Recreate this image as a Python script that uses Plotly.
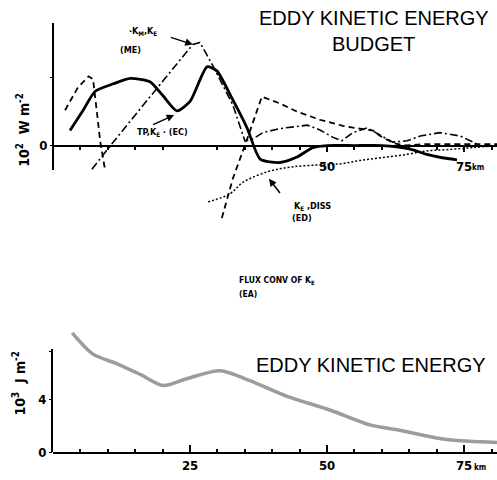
import plotly.graph_objects as go

# ---------------- data ----------------
# Top panel: eddy kinetic energy budget, 10^2 W m^-2, x in km
EC_X = [3.1, 5.5, 7.7, 11.0, 14.1, 17.7, 20.0, 22.6, 25.0, 28.1, 29.9, 32.5, 35.4, 37.8, 41.4, 44.5, 47.4, 50.0, 55.0, 60.0, 65.0, 68.2, 71.0, 73.7]
EC_Y = [0.22, 0.52, 0.80, 0.91, 0.99, 0.94, 0.74, 0.51, 0.65, 1.16, 1.10, 0.72, 0.26, -0.20, -0.25, -0.17, -0.03, 0.0, 0.0, 0.0, -0.05, -0.13, -0.18, -0.21]

ME_X = [7.1, 10.0, 16.0, 22.6, 25.5, 26.8, 29.2, 32.8, 35.0, 36.5, 38.3, 41.4, 46.4, 48.7, 51.1, 52.7, 54.7, 57.3, 59.5, 62.0, 64.6, 67.0, 70.6, 74.3, 77.4]
ME_Y = [-0.35, -0.05, 0.55, 1.21, 1.49, 1.52, 1.17, 0.60, 0.07, 0.10, 0.19, 0.25, 0.30, 0.23, 0.12, 0.07, 0.19, 0.26, 0.16, 0.05, 0.07, 0.14, 0.19, 0.14, 0.02]

EA_X = [2.2, 4.5, 6.5, 7.3, 8.0, 8.6, 9.5, None, 30.8, 32.8, 35.4, 38.1, 41.4, 44.5, 48.7, 52.9, 56.6, 58.4, 59.7, 62.0, 64.0, 68.0, 73.0, 78.0, 81.0]
EA_Y = [0.52, 0.85, 1.02, 0.98, 0.50, 0.07, -0.36, None, -1.07, -0.49, 0.09, 0.72, 0.62, 0.50, 0.38, 0.29, 0.24, 0.22, 0.14, 0.04, 0.0, 0.02, 0.02, 0.02, 0.02]

ED_X = [28.3, 32.3, 34.7, 39.4, 43.2, 47.4, 52.4, 56.0, 60.0, 64.6, 68.2, 72.0, 76.6, 81.0]
ED_Y = [-0.83, -0.71, -0.54, -0.38, -0.32, -0.29, -0.27, -0.22, -0.18, -0.13, -0.08, -0.06, -0.03, 0.0]

# Bottom panel: eddy kinetic energy, 10^3 J m^-2
EKE_X = [3.5, 7.3, 11.7, 16.0, 20.1, 24.5, 30.5, 35.9, 42.7, 50.5, 57.8, 62.8, 71.9, 81.0]
EKE_Y = [9.0, 7.4, 6.67, 5.85, 5.04, 5.56, 6.15, 5.4, 4.22, 3.19, 2.07, 1.70, 0.96, 0.74]

# tick labels
BOT_X_TICKS = [25, 50, 75]
BOT_X_TEXT = ["25", "50", "75"]
TOP_X_TICKS = [50, 75]
TOP_X_TEXT = ["50", "75"]
BOT_Y_TICKS = [0, 4, 7.6]
BOT_Y_TEXT = ["0", "4", ""]
TOP_Y_TICKS = [0, 1]
TOP_Y_TEXT = ["0", ""]
MINOR_TICKS = [5, 10, 15, 20, 30, 35, 40, 45, 55, 60, 65, 70, 80]

# ---------------- layout helpers ----------------
W, H = 497, 480
X0 = 53 / W
NARROW = "Liberation Sans Narrow, DejaVu Sans Condensed, Liberation Sans, sans-serif"
SANS = "Liberation Sans, Arial, sans-serif"
CLEAR = "rgba(0,0,0,0)"


def P(px, py):
    return px / W, 1 - py / H


fig = go.Figure()

# bottom panel curve
fig.add_trace(go.Scatter(x=EKE_X, y=EKE_Y, xaxis="x", yaxis="y", mode="lines",
                         line=dict(color="#9c9c9c", width=3.5, shape="spline", smoothing=0.8),
                         hoverinfo="skip"))
# top panel curves
fig.add_trace(go.Scatter(x=EC_X, y=EC_Y, xaxis="x2", yaxis="y2", mode="lines",
                         line=dict(color="black", width=2.8, shape="spline", smoothing=0.6)))
fig.add_trace(go.Scatter(x=ME_X, y=ME_Y, xaxis="x2", yaxis="y2", mode="lines",
                         line=dict(color="black", width=1.6, dash="8px,3px,2px,3px")))
fig.add_trace(go.Scatter(x=EA_X, y=EA_Y, xaxis="x2", yaxis="y2", mode="lines", connectgaps=False,
                         line=dict(color="black", width=1.8, dash="6px,4px")))
fig.add_trace(go.Scatter(x=ED_X, y=ED_Y, xaxis="x2", yaxis="y2", mode="lines",
                         line=dict(color="black", width=1.5, dash="2px,2px", shape="spline")))
# empty traces so the spine-only axes get drawn
fig.add_trace(go.Scatter(x=[], y=[], xaxis="x", yaxis="y3", mode="lines"))
fig.add_trace(go.Scatter(x=[], y=[], xaxis="x2", yaxis="y4", mode="lines"))

tickfont = dict(family=NARROW, size=13, color="black", weight="bold")

fig.update_layout(
    width=W, height=H, margin=dict(l=0, r=0, t=0, b=0),
    paper_bgcolor="white", plot_bgcolor=CLEAR, showlegend=False,
    xaxis=dict(domain=[X0, 1], range=[0, 81], anchor="y", showline=True, linecolor="black",
               linewidth=2, ticks="inside", ticklen=7, tickwidth=1.5, tickcolor="black",
               tickmode="array", tickvals=BOT_X_TICKS, ticktext=BOT_X_TEXT, tickfont=tickfont,
               showgrid=False, zeroline=False,
               minor=dict(ticks="inside", ticklen=3, tickcolor="black", tickmode="array",
                          tickvals=MINOR_TICKS, showgrid=False)),
    yaxis=dict(domain=[1 - 460 / H, 1 - 320 / H], range=[0, 140 / 13.5], anchor="x",
               showline=False, ticks="outside", ticklen=3, tickcolor="black",
               tickmode="array", tickvals=BOT_Y_TICKS, ticktext=BOT_Y_TEXT, tickfont=tickfont,
               showgrid=False, zeroline=False),
    yaxis3=dict(domain=[1 - 460 / H, 1 - 355 / H], range=[0, 1], anchor="x", showline=True,
                linecolor="black", linewidth=2, showticklabels=False, ticks="",
                showgrid=False, zeroline=False),
    xaxis2=dict(domain=[X0, 1], range=[0, 81], anchor="free", position=1 - 148 / H,
                showline=True, linecolor="black", linewidth=2, ticks="outside", ticklen=5,
                tickwidth=1.5, tickcolor="black", tickmode="array", tickvals=TOP_X_TICKS,
                ticktext=TOP_X_TEXT, tickfont=tickfont, ticklabelstandoff=4,
                showgrid=False, zeroline=False,
                minor=dict(ticks="outside", ticklen=3, tickcolor="black", tickmode="array",
                           tickvals=MINOR_TICKS, showgrid=False)),
    yaxis2=dict(domain=[0.5, 1], range=[-92 / 69, 148 / 69], anchor="free", position=X0,
                showline=False, ticks="outside", ticklen=3, tickcolor="black",
                tickmode="array", tickvals=TOP_Y_TICKS, ticktext=TOP_Y_TEXT, tickfont=tickfont,
                showgrid=False, zeroline=False),
    yaxis4=dict(domain=[1 - 173 / H, 1 - 23 / H], range=[0, 1], anchor="free", position=X0,
                showline=True, linecolor="black", linewidth=2, showticklabels=False, ticks="",
                showgrid=False, zeroline=False),
)


def text(px, py, s, size=9, family=NARROW, bold=True, angle=0, xanchor="center"):
    x, y = P(px, py)
    fig.add_annotation(x=x, y=y, xref="paper", yref="paper", text=s, showarrow=False,
                       xanchor=xanchor, yanchor="middle", textangle=angle,
                       font=dict(family=family, size=size, color="black",
                                 weight="bold" if bold else "normal"))


def arrow(xd, yd, ax, ay):
    fig.add_annotation(x=xd, y=yd, xref="x2", yref="y2", text=" ", showarrow=True,
                       arrowhead=2, arrowsize=1, arrowwidth=1.5, arrowcolor="black",
                       ax=ax, ay=ay, standoff=0)


# titles
text(374, 18, "EDDY KINETIC ENERGY", size=20, family=SANS, bold=False)
text(373, 45, "BUDGET", size=20, family=SANS, bold=False)
text(371, 371, "EDDY KINETIC ENERGY", size=20, family=SANS, bold=False)

# axis titles
text(23, 132, "10<sup>2</sup>  W m<sup>-2</sup>", size=14, angle=-90)
text(19, 390, "10<sup>3</sup>  J m<sup>-2</sup>", size=14, angle=-90)

# km units
text(478, 170, "km", size=8)
text(480, 475, "km", size=8)

# curve labels
text(127, 32, "·K<sub>M</sub>,K<sub>E</sub>", size=9, xanchor="left")
text(118, 51, "(ME)", size=9, xanchor="left")
text(135, 135, "TP,K<sub>E</sub> · (EC)", size=9, xanchor="left")
text(292, 210, "K<sub>E</sub> ,DISS", size=9, xanchor="left")
text(290, 222, "(ED)", size=9, xanchor="left")
text(237, 285, "FLUX CONV OF K<sub>E</sub>", size=8.5, xanchor="left")
text(237, 299, "(EA)", size=8.5, xanchor="left")

# arrows pointing to curves
arrow(25.5, 1.49, -25, -8)
arrow(22.1, 0.45, -24, 11)
arrow(39.4, -0.49, 14, 18)

PAGE_CSS = (
    "var d=document.documentElement,b=document.body;"
    "[d,b].forEach(function(e){e.style.margin='0';e.style.padding='0';"
    "e.style.overflow='hidden';e.style.height='480px';});"
    "window.scrollTo(0,0);"
)

fig.write_html("out.html", config={"displayModeBar": False}, post_script=PAGE_CSS)
